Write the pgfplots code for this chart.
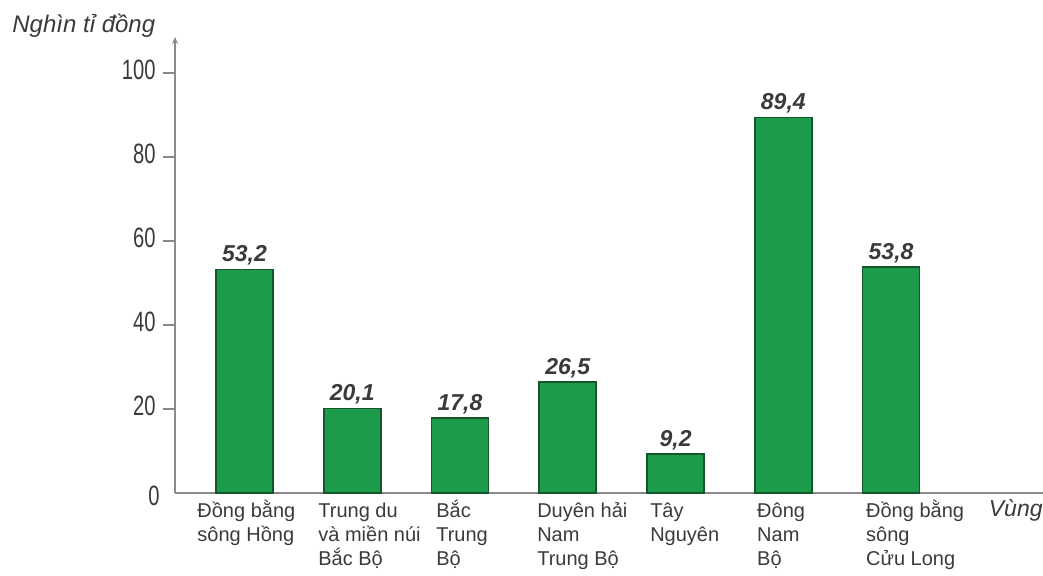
\documentclass[border=0pt]{standalone}
\usepackage{fontspec}
\setmainfont{Liberation Sans}
\newfontfamily\condfont{Liberation Sans}[FakeStretch=0.72]
\usepackage{pgfplots}
\pgfplotsset{compat=1.18}
\usetikzlibrary{arrows.meta}
\definecolor{barfill}{HTML}{1C9B4A}
\definecolor{bardraw}{HTML}{17562C}
\definecolor{txt}{HTML}{3A3A3A}
\definecolor{axcol}{HTML}{8A8A8A}
\newcommand{\st}{\rule{0pt}{10pt}}
\begin{document}
\begin{tikzpicture}
\useasboundingbox (0,0) rectangle (521.5pt,287.5pt);
\begin{axis}[
  at={(87.5pt,41pt)}, anchor=south west,
  scale only axis, width=434pt, height=228pt,
  xmin=-0.645, xmax=7.41, ymin=0, ymax=108.57,
  enlargelimits=false,
  axis x line=bottom, axis y line=left,
  x axis line style={-, draw=axcol, line width=0.9pt},
  y axis line style={-{Stealth[length=3.5pt,width=3pt]}, draw=axcol, line width=0.9pt},
  /pgf/number format/assume math mode=true,
  ytick={20,40,60,80,100},
  extra y ticks={0},
  extra y tick style={major tick length=0pt, yticklabel style={xshift=-4pt, yshift=-3pt}},
  tick align=outside,
  major tick length=6pt,
  ytick style={draw=axcol, line width=0.8pt},
  yticklabel style={font=\condfont\fontsize{14}{14}\selectfont, text=txt, inner sep=0pt, xshift=-3.5pt, yshift=1.5pt},
  xtick={-0.4406,0.6818,1.7764,2.7134,3.7616,4.7542,5.7653},
  xticklabels={{\st Đồng bằng\\sông Hồng},{\st Trung du\\và miền núi\\Bắc Bộ},{\st Bắc\\Trung\\Bộ},{\st Duyên hải\\Nam\\Trung Bộ},{\st Tây\\Nguyên},{\st Đông\\Nam\\Bộ},{\st Đồng bằng\\sông\\Cửu Long}},
  xtick style={draw=none},
  xticklabel style={font=\fontsize{10}{12}\selectfont, text=txt, anchor=north west, align=left, inner sep=0pt, yshift=4pt},
  nodes near coords,
  every node near coord/.append style={font=\bfseries\itshape\fontsize{11.5}{12}\selectfont, text=txt, anchor=base, inner sep=0pt, yshift=3.8pt,
    /pgf/number format/.cd, fixed, fixed zerofill, precision=1, use comma},
  clip=false,
]
\addplot[ybar, bar width=28.5pt, fill=barfill, draw=bardraw, line width=0.9pt]
  coordinates {(0,53.2) (1,20.1) (2,17.8) (3,26.5) (4,9.2) (5,89.4) (6,53.8)};
\end{axis}
\node[anchor=base west, font=\itshape\fontsize{12}{12}\selectfont, text=txt, inner sep=0pt] at (6pt,271.5pt) {Nghìn tỉ đồng};
\node[anchor=base east, font=\itshape\fontsize{11.5}{12}\selectfont, text=txt, inner sep=0pt] at (521.5pt,29.5pt) {Vùng};
\end{tikzpicture}
\end{document}
